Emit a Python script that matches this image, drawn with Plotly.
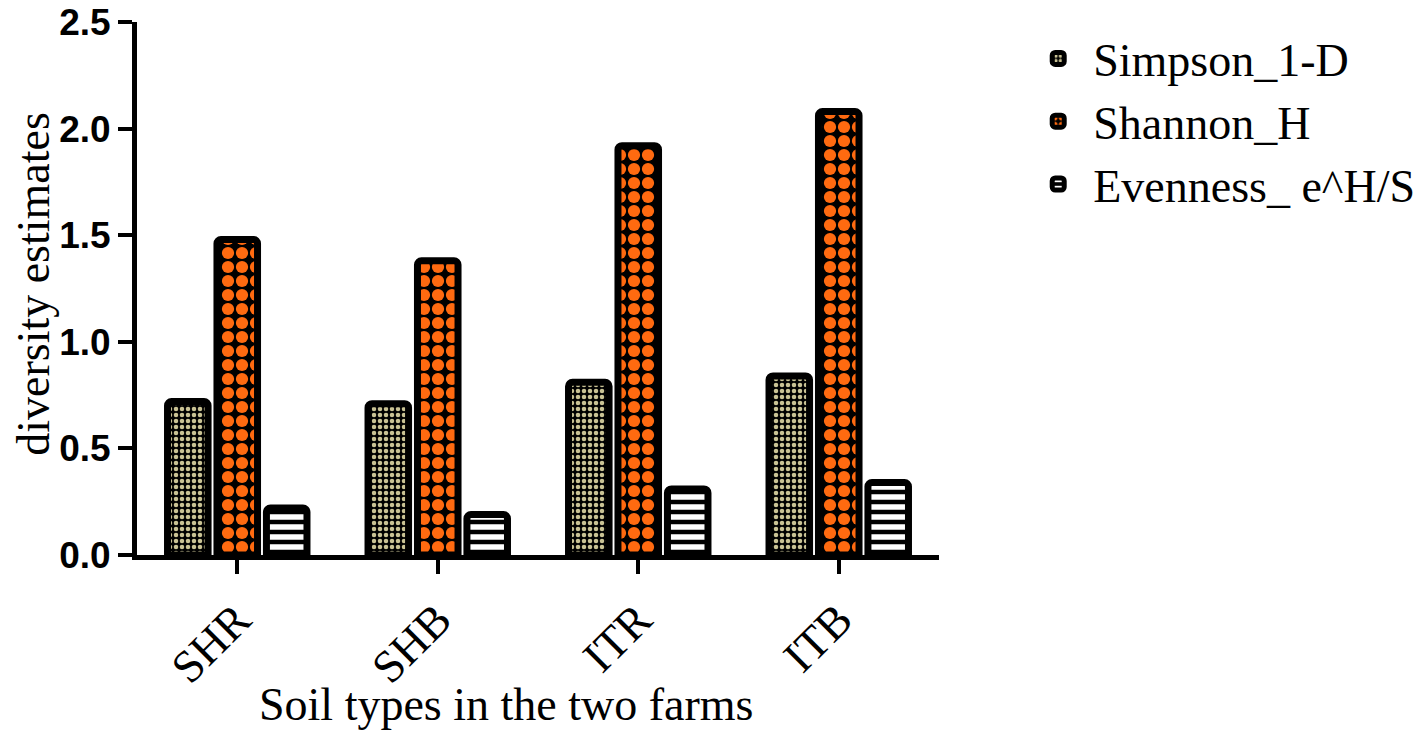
import plotly.graph_objects as go

categories = ["SHR", "SHB", "ITR", "ITB"]
simpson = [0.72, 0.71, 0.81, 0.84]
shannon = [1.48, 1.38, 1.92, 2.08]
evenness = [0.22, 0.19, 0.31, 0.34]
y_ticks = [0.0, 0.5, 1.0, 1.5, 2.0, 2.5]

SERIF = "Liberation Serif"

fig = go.Figure()
fig.add_trace(go.Bar(
    name="Simpson_1-D", x=categories, y=simpson,
    marker=dict(color="black", line=dict(color="black", width=7),
                pattern=dict(shape=".", bgcolor="black", fgcolor="#c9c294",
                             size=6, solidity=0.45, fillmode="replace")),
))
fig.add_trace(go.Bar(
    name="Shannon_H", x=categories, y=shannon,
    marker=dict(color="black", line=dict(color="black", width=7),
                pattern=dict(shape=".", bgcolor="black", fgcolor="#ff6a10",
                             size=14, solidity=0.6, fillmode="replace")),
))
fig.add_trace(go.Bar(
    name="Evenness_ e^H/S", x=categories, y=evenness,
    marker=dict(color="black", line=dict(color="black", width=7),
                pattern=dict(shape="-", bgcolor="black", fgcolor="white",
                             size=10, solidity=0.55, fillmode="replace")),
))

fig.update_layout(
    width=1424, height=732,
    paper_bgcolor="white", plot_bgcolor="white",
    margin=dict(l=129, r=482, t=14, b=185),
    barmode="group", bargap=0.26, bargroupgap=0.18, barcornerradius=4,
    showlegend=True,
    legend=dict(x=1.105, y=1.0, xanchor="left", yanchor="top",
                font=dict(family=SERIF, size=46, color="black"),
                itemwidth=60, tracegroupgap=0, bgcolor="rgba(0,0,0,0)"),
    xaxis=dict(
        range=[-0.5, 3.5], showline=True, linecolor="black", linewidth=5,
        ticks="outside", ticklen=14, tickwidth=4, tickcolor="black",
        tickangle=-45, showgrid=False, zeroline=False, automargin=False,
        tickfont=dict(family=SERIF, size=46, color="black"),
    ),
    yaxis=dict(
        range=[0, 2.5], showline=True, linecolor="black", linewidth=5,
        ticks="outside", ticklen=14, tickwidth=4, tickcolor="black",
        tickvals=y_ticks, tickformat=".1f", showgrid=False, zeroline=False,
        automargin=False, ticklabeloverflow="allow",
        tickfont=dict(family="Liberation Sans", size=37, color="black", weight="bold"),
    ),
    annotations=[
        dict(text="Soil types in the two farms", xref="paper", yref="paper",
             x=0.46, y=-0.28, xanchor="center", yanchor="middle", showarrow=False,
             font=dict(family=SERIF, size=46, color="black")),
        dict(text="diversity estimates", xref="paper", yref="paper",
             x=-0.129, y=0.508, xanchor="center", yanchor="middle", showarrow=False,
             textangle=-90, font=dict(family=SERIF, size=46, color="black")),
    ],
)

fig.write_html("out.html")
